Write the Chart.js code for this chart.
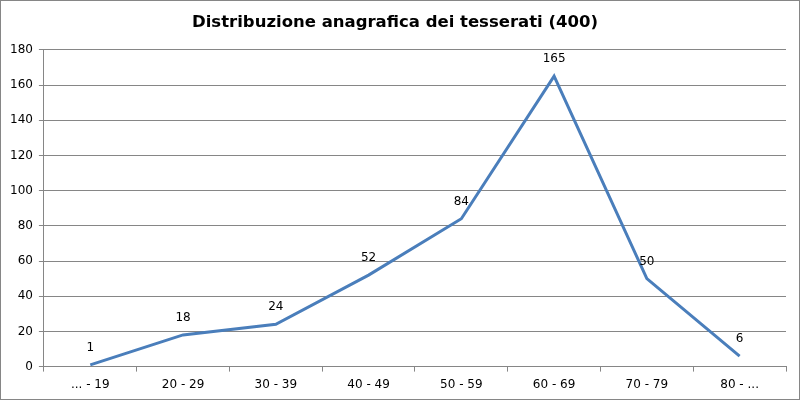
<!DOCTYPE html>
<html>
<head>
<meta charset="utf-8">
<script src="https://cdn.jsdelivr.net/npm/chart.js@4"></script>
<style>
  html, body { margin: 0; padding: 0; background: #fff; }
  #wrap { width: 800px; height: 400px; }
</style>
</head>
<body>
<div id="wrap"><canvas id="ageChart"></canvas></div>
<script>
var categories = ['... - 19', '20 - 29', '30 - 39', '40 - 49', '50 - 59', '60 - 69', '70 - 79', '80 - ...'];
var members = [1, 18, 24, 52, 84, 165, 50, 6];
var yTicks = [0, 20, 40, 60, 80, 100, 120, 140, 160, 180];

var blue = 'rgb(74, 126, 187)';
var gridGray = 'rgb(134, 134, 134)';
var fontFamily = '"DejaVu Sans", Verdana, sans-serif';

// White background and thin frame round the whole picture.
var framePlugin = {
    id: 'frame',
    beforeDraw: function (chart) {
        var ctx = chart.ctx;
        ctx.save();
        ctx.fillStyle = '#fff';
        ctx.fillRect(0, 0, chart.width, chart.height);
        ctx.strokeStyle = gridGray;
        ctx.lineWidth = 1;
        ctx.strokeRect(0.5, 0.5, chart.width - 1, chart.height - 1);
        ctx.restore();
    }
};

// Value labels above each point.
var valueLabels = {
    id: 'valueLabels',
    afterDatasetsDraw: function (chart) {
        var ctx = chart.ctx;
        var meta = chart.getDatasetMeta(0);
        ctx.save();
        ctx.font = '12px ' + fontFamily;
        ctx.fillStyle = '#000';
        ctx.textAlign = 'center';
        ctx.textBaseline = 'middle';
        meta.data.forEach(function (pt, i) {
            ctx.fillText(String(members[i]), pt.x, pt.y - 17);
        });
        ctx.restore();
    }
};

var ctx = document.getElementById('ageChart').getContext('2d');
var myChart = new Chart(ctx, {
    type: 'line',
    plugins: [framePlugin, valueLabels],
    data: {
        labels: categories,
        datasets: [{
            data: members,
            borderColor: blue,
            backgroundColor: blue,
            borderWidth: 3,
            pointRadius: 0,
            tension: 0,
            fill: false
        }]
    },
    options: {
        responsive: true,
        maintainAspectRatio: false,
        animation: false,
        layout: {
            padding: { left: 4, right: 14, top: 0, bottom: 2 }
        },
        plugins: {
            legend: { display: false },
            tooltip: { enabled: false },
            title: {
                display: true,
                text: 'Distribuzione anagrafica dei tesserati (400)',
                color: '#000',
                font: { family: fontFamily, size: 16.5, weight: 'bold' },
                padding: { top: 13, bottom: 17 }
            }
        },
        scales: {
            x: {
                offset: true,
                grid: {
                    offset: true,
                    drawOnChartArea: false,
                    drawTicks: true,
                    tickLength: 5,
                    color: gridGray
                },
                border: { display: true, color: gridGray },
                ticks: {
                    color: '#000',
                    font: { family: fontFamily, size: 12 },
                    maxRotation: 0,
                    padding: 6
                }
            },
            y: {
                min: 0,
                max: 180,
                afterBuildTicks: function (axis) {
                    axis.ticks = yTicks.map(function (v) { return { value: v }; });
                },
                grid: {
                    color: gridGray,
                    tickLength: 5
                },
                border: { display: true, color: gridGray },
                ticks: {
                    color: '#000',
                    font: { family: fontFamily, size: 12 },
                    padding: 6
                }
            }
        }
    }
});
</script>
</body>
</html>
